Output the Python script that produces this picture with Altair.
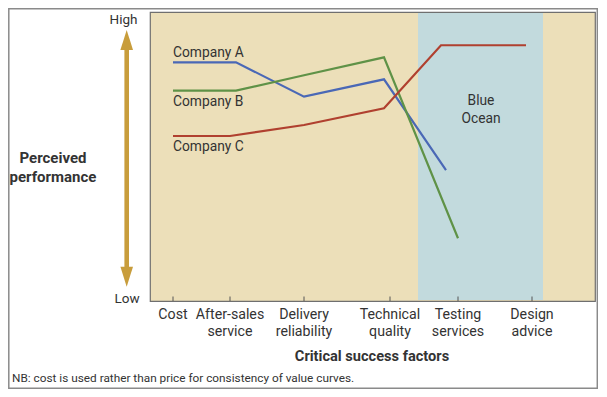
import altair as alt
import pandas as pd

# ---- data ----
factors = ["Cost", "After-sales\nservice", "Delivery\nreliability",
           "Technical\nquality", "Testing\nservices", "Design\nadvice"]
factor_pos = [23, 80, 154, 240, 308, 382]

companies = ["Company A", "Company B", "Company C"]
colors = ["#4a68b6", "#5f9247", "#b0402f"]

a_pos = [23, 86, 154, 234, 296]
a_val = [8.26, 8.26, 7.07, 7.67, 4.53]
b_pos = [23, 86, 154, 234, 308]
b_val = [7.28, 7.28, 7.81, 8.43, 2.17]
c_pos = [23, 80, 154, 234, 291, 376]
c_val = [5.71, 5.71, 6.09, 6.67, 8.85, 8.85]

label_pos = [23, 23, 23]
label_val = [8.58, 6.90, 5.34]

band_start = [268]
band_end = [393]
band_label = ["Blue\nOcean"]
band_label_pos = [331]
band_label_val = [6.92]

FONT = "Roboto"
TXT = "#333333"
GOLD = "#c89d3c"

rows = []
for name, ps, vs in zip(companies, [a_pos, b_pos, c_pos], [a_val, b_val, c_val]):
    for i, (p, v) in enumerate(zip(ps, vs)):
        rows.append({"company": name, "pos": p, "value": v, "i": i})
lines_df = pd.DataFrame(rows)

xs = alt.Scale(domain=[0, 445], nice=False, zero=False)
ys = alt.Scale(domain=[0, 10], nice=False, zero=False)
cs = alt.Scale(domain=companies, range=colors)

one = pd.DataFrame({"k": [0]})

band = alt.Chart(pd.DataFrame({"s": band_start, "e": band_end})).mark_rect(
    color="#c2dadd").encode(
    x=alt.X("s:Q", scale=xs, axis=None),
    x2="e:Q",
    y=alt.value(1), y2=alt.value(288))

band_text = alt.Chart(pd.DataFrame({"t": band_label, "p": band_label_pos, "v": band_label_val})).mark_text(
    font=FONT, fontSize=13.8, color=TXT, lineBreak="\n", lineHeight=18,
    align="center", baseline="middle").encode(
    x=alt.X("p:Q", scale=xs, axis=None),
    y=alt.Y("v:Q", scale=ys, axis=None),
    text="t:N")

lines = alt.Chart(lines_df).mark_line(strokeWidth=2.2).encode(
    x=alt.X("pos:Q", scale=xs, axis=None),
    y=alt.Y("value:Q", scale=ys, axis=None),
    color=alt.Color("company:N", scale=cs, legend=None),
    order="i:Q")

labels = alt.Chart(pd.DataFrame({"t": companies, "p": label_pos, "v": label_val})).mark_text(
    font=FONT, fontSize=13.8, color=TXT, align="left", baseline="middle").encode(
    x=alt.X("p:Q", scale=xs, axis=None),
    y=alt.Y("v:Q", scale=ys, axis=None),
    text="t:N")

ticks = alt.Chart(pd.DataFrame({"p": factor_pos})).mark_rule(
    color="#555555", strokeWidth=1).encode(
    x=alt.X("p:Q", scale=xs, axis=None),
    y=alt.value(284.5), y2=alt.value(289))

tick_labels = alt.Chart(pd.DataFrame({"t": factors, "p": factor_pos})).mark_text(
    font=FONT, fontSize=14.2, color=TXT, lineBreak="\n", lineHeight=17,
    align="center", baseline="alphabetic").encode(
    x=alt.X("p:Q", scale=xs, axis=None),
    y=alt.value(306.5),
    text="t:N")

shaft = alt.Chart(one).mark_rule(color=GOLD, strokeWidth=4.6).encode(
    x=alt.value(-23.3), y=alt.value(34), y2=alt.value(259))

head_up = alt.Chart(one).mark_point(
    shape="M0,-1L0.63,1L-0.63,1Z", filled=True, size=400, opacity=1,
    color=GOLD, strokeWidth=0).encode(x=alt.value(-23.3), y=alt.value(28))

head_down = alt.Chart(one).mark_point(
    shape="M0,1L0.63,-1L-0.63,-1Z", filled=True, size=400, opacity=1,
    color=GOLD, strokeWidth=0).encode(x=alt.value(-23.3), y=alt.value(264.7))


def free_text(txt, x, y, size=13, weight="normal", align="center", lh=18):
    return alt.Chart(pd.DataFrame({"t": [txt]})).mark_text(
        font=FONT, fontSize=size, fontWeight=weight, color=TXT,
        align=align, baseline="middle", lineBreak="\n", lineHeight=lh).encode(
        x=alt.value(x), y=alt.value(y), text="t:N")


high = free_text("High", -26.5, 7.5, size=13.5)
low = free_text("Low", -23, 286.5, size=13.5)
perf = free_text("Perceived\nperformance", -97, 145.5, size=15, weight="bold", lh=19)
xtitle = free_text("Critical success factors", 222, 344.5, size=14.6, weight="bold")
note = free_text("NB: cost is used rather than price for consistency of value curves.",
                 -138, 366, size=11.8, align="left")

border = alt.Chart(one).mark_rect(fill=None, stroke="#8a8a8a", strokeWidth=1.5).encode(
    x=alt.value(-141.2), x2=alt.value(447.3), y=alt.value(-3.3), y2=alt.value(376.3))

chart = alt.layer(
    band, band_text, lines, labels, ticks, tick_labels,
    shaft, head_up, head_down, high, low, perf, xtitle, note, border
).properties(
    width=445, height=289,
    padding={"left": 142, "top": 4, "right": 3, "bottom": 88},
    autosize="none",
    background="white",
).configure_view(
    fill="#ecdfb9", stroke="#6f6f6f", strokeWidth=1.2
)

chart.save("out.html", embed_options={"renderer": "svg", "actions": False})
